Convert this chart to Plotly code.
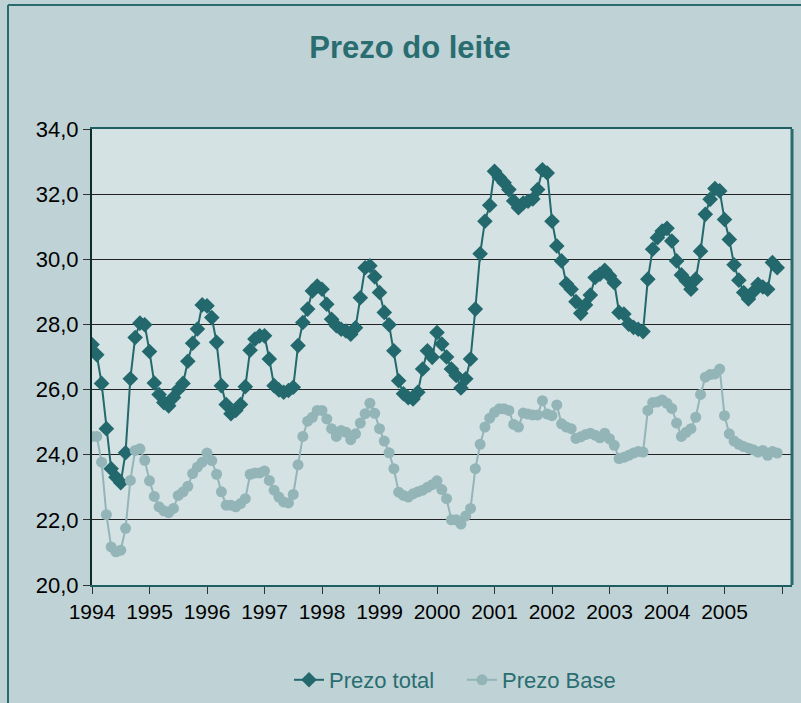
import plotly.graph_objects as go

years = ["1994", "1995", "1996", "1997", "1998", "1999",
         "2000", "2001", "2002", "2003", "2004", "2005"]

prezo_total = [
    27.38, 27.07, 26.19, 24.80, 23.57, 23.31, 23.14, 24.06, 26.33, 27.60, 28.04, 27.99,  # 1994
    27.17, 26.20, 25.85, 25.60, 25.50, 25.76, 26.00, 26.19, 26.87, 27.42, 27.86, 28.60,  # 1995
    28.57, 28.21, 27.45, 26.12, 25.54, 25.26, 25.36, 25.54, 26.09, 27.21, 27.55, 27.65,  # 1996
    27.65, 26.94, 26.12, 25.99, 25.92, 25.97, 26.07, 27.35, 28.06, 28.47, 29.03, 29.18,  # 1997
    29.08, 28.62, 28.16, 27.96, 27.85, 27.80, 27.70, 27.90, 28.82, 29.74, 29.80, 29.46,  # 1998
    28.98, 28.37, 27.99, 27.19, 26.27, 25.87, 25.75, 25.71, 25.92, 26.63, 27.19, 26.99,  # 1999
    27.75, 27.40, 27.00, 26.63, 26.43, 26.05, 26.33, 26.94, 28.47, 30.17, 31.17, 31.66,  # 2000
    32.70, 32.52, 32.35, 32.14, 31.79, 31.58, 31.73, 31.78, 31.85, 32.14, 32.75, 32.65,  # 2001
    31.17, 30.41, 29.95, 29.25, 29.08, 28.70, 28.34, 28.60, 28.90, 29.44, 29.54, 29.66,  # 2002
    29.49, 29.28, 28.37, 28.32, 28.01, 27.91, 27.85, 27.78, 29.39, 30.31, 30.66, 30.87,  # 2003
    30.95, 30.56, 29.95, 29.52, 29.34, 29.08, 29.39, 30.25, 31.38, 31.84, 32.17, 32.10,  # 2004
    31.22, 30.61, 29.83, 29.36, 28.98, 28.78, 29.00, 29.23, 29.15, 29.08, 29.90, 29.74,  # 2005
]

prezo_base = [
    24.56, 24.56, 23.77, 22.16, 21.17, 21.02, 21.07, 21.74, 23.21, 24.13, 24.18, 23.83,  # 1994
    23.20, 22.72, 22.40, 22.28, 22.22, 22.35, 22.75, 22.86, 23.03, 23.42, 23.62, 23.77,  # 1995
    24.05, 23.82, 23.40, 22.86, 22.45, 22.45, 22.40, 22.50, 22.65, 23.40, 23.44, 23.44,  # 1996
    23.50, 23.21, 22.91, 22.70, 22.55, 22.52, 22.78, 23.69, 24.56, 25.03, 25.15, 25.36,  # 1997
    25.36, 25.10, 24.80, 24.56, 24.74, 24.69, 24.46, 24.64, 24.97, 25.26, 25.58, 25.27,  # 1998
    24.80, 24.42, 24.06, 23.57, 22.85, 22.75, 22.70, 22.80, 22.86, 22.91, 23.00, 23.08,  # 1999
    23.20, 22.93, 22.65, 22.00, 22.00, 21.87, 22.12, 22.35, 23.57, 24.32, 24.85, 25.12,  # 2000
    25.30, 25.41, 25.41, 25.36, 24.93, 24.85, 25.28, 25.25, 25.22, 25.22, 25.66, 25.25,  # 2001
    25.20, 25.53, 24.95, 24.85, 24.80, 24.50, 24.55, 24.62, 24.66, 24.60, 24.52, 24.66,  # 2002
    24.49, 24.29, 23.88, 23.92, 23.98, 24.05, 24.10, 24.08, 25.36, 25.60, 25.62, 25.68,  # 2003
    25.58, 25.42, 24.97, 24.56, 24.69, 24.80, 25.15, 25.85, 26.38, 26.46, 26.48, 26.63,  # 2004
    25.20, 24.64, 24.42, 24.32, 24.25, 24.20, 24.15, 24.08, 24.13, 23.98, 24.10, 24.05,  # 2005
]

y_ticks = [20, 22, 24, 26, 28, 30, 32, 34]

months_per_year = 12
x_idx = list(range(len(prezo_total)))
tick_vals = [months_per_year * k for k in range(len(years) + 1)]
tick_text = years + [""]

DARK = "#23686c"
LIGHT = "#93b5b8"
TEAL_TXT = "#2a6d71"
PAPER_BG = "#bfd3d6"

W, H = 801, 703
L, R, T, B = 92, 9, 129, 118
pw = W - L - R
ph = H - T - B
px_per_month = 57.5 / 12

def px2paper_x(px):
    return (px - L) / pw

def py2paper_y(py):
    return (H - B - py) / ph

fig = go.Figure()
fig.add_trace(go.Scatter(
    x=x_idx, y=prezo_total, name="Prezo total", mode="lines+markers",
    line=dict(color=DARK, width=2),
    marker=dict(symbol="diamond", size=12, color=DARK),
))
fig.add_trace(go.Scatter(
    x=x_idx, y=prezo_base, name="Prezo Base", mode="lines+markers",
    line=dict(color=LIGHT, width=2),
    marker=dict(symbol="circle", size=11, color=LIGHT),
))

fig.update_layout(
    width=W, height=H,
    margin=dict(l=L, r=R, t=T, b=B, autoexpand=False),
    paper_bgcolor=PAPER_BG,
    plot_bgcolor="#d4e2e4",
    separators=",.",
    font=dict(family="Liberation Sans, Arial, sans-serif", size=22, color="black"),
    title=dict(text="<b>Prezo do leite</b>", x=410 / W, xref="container", xanchor="center",
               y=1 - 47 / H, yref="container", yanchor="middle",
               font=dict(size=31, color=TEAL_TXT)),
    showlegend=True,
    legend=dict(orientation="h", xref="container", x=289 / W, xanchor="left",
                yref="container", y=1 - 680 / H, yanchor="middle",
                font=dict(size=22, color=TEAL_TXT), bgcolor="rgba(0,0,0,0)",
                entrywidth=128, entrywidthmode="pixels",
                tracegroupgap=0),
    xaxis=dict(
        range=[0, pw / px_per_month],
        tickmode="array", tickvals=tick_vals, ticktext=tick_text,
        ticks="outside", ticklen=7, tickcolor="#333333", tickwidth=1,
        showgrid=False, zeroline=False,
        showline=True, linecolor="#1f5f62", linewidth=2, mirror=True,
        tickfont=dict(size=21, color="black"),
        automargin=False,
    ),
    yaxis=dict(
        range=[20, 34],
        tickmode="array", tickvals=y_ticks,
        tickformat=".1f",
        ticks="outside", ticklen=7, tickcolor="#333333", tickwidth=1,
        showgrid=True, gridcolor="#222222", gridwidth=1,
        zeroline=False,
        showline=True, linecolor="#0e2c2d", linewidth=2,
        tickfont=dict(size=22, color="black"),
        automargin=False,
    ),
)

# right border of plot area
fig.add_shape(type="line", xref="paper", yref="paper", x0=1, x1=1, y0=0, y1=1,
              line=dict(color="#2a6b6e", width=3))
# outer chart frame (top and left)
fig.add_shape(type="line", xref="paper", yref="paper",
              x0=px2paper_x(8), x1=px2paper_x(W + 5), y0=py2paper_y(5), y1=py2paper_y(5),
              line=dict(color="#2a6b6e", width=2))
fig.add_shape(type="line", xref="paper", yref="paper",
              x0=px2paper_x(8), x1=px2paper_x(8), y0=py2paper_y(5), y1=py2paper_y(H + 5),
              line=dict(color="#2a6b6e", width=2))

fig.write_html(
    "out.html",
    config={"displayModeBar": False},
    post_script=("document.body.style.margin='0';"
                 "document.body.style.background='" + PAPER_BG + "';"),
)
